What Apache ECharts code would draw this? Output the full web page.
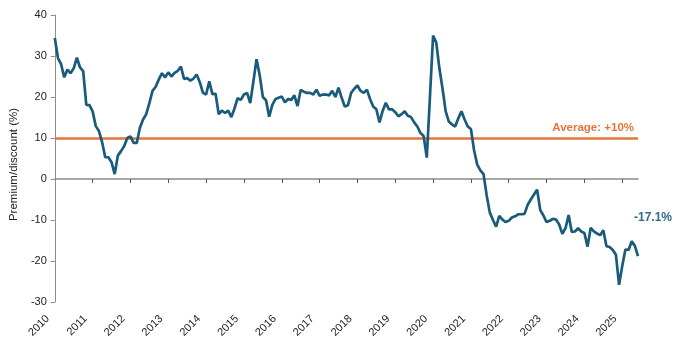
<!DOCTYPE html>
<html>
<head>
<meta charset="utf-8">
<script src="https://cdn.jsdelivr.net/npm/echarts@6/dist/echarts.min.js"></script>
<style>
html,body{margin:0;padding:0;background:#fff;}
#chart{width:680px;height:358px;}
</style>
</head>
<body>
<div id="chart"></div>
<script>
// Monthly premium/discount (%) from Jan 2010 to Jun 2025
const startYear = 2010;
const premium = [
  34.4, 29.5, 28.0, 24.8, 26.7, 25.8, 27.0, 29.6, 27.2, 26.3, 18.1, 18.0,
  16.5, 12.9, 11.7, 9.0, 5.3, 5.3, 4.1, 1.2, 5.7, 6.8, 8.0, 10.0,
  10.4, 8.8, 8.8, 12.5, 14.5, 15.8, 18.5, 21.5, 22.5, 24.3, 25.8, 24.8,
  26.0, 25.0, 25.9, 26.4, 27.4, 24.4, 24.6, 24.0, 24.5, 25.5, 23.6, 21.0,
  20.6, 23.8, 20.7, 20.8, 15.8, 16.7, 16.1, 16.7, 15.1, 17.2, 19.7, 19.3,
  20.6, 21.0, 18.5, 23.8, 29.2, 25.3, 20.0, 19.2, 15.2, 18.1, 19.5, 19.8,
  20.1, 18.7, 19.5, 19.3, 20.4, 17.8, 21.7, 21.3, 21.0, 21.0, 20.6, 21.8,
  20.3, 20.6, 20.6, 20.4, 21.5, 20.0, 22.3, 19.8, 17.7, 18.0, 21.0, 22.0,
  22.8, 21.5, 21.0, 21.8, 19.5, 17.7, 17.0, 13.8, 16.6, 18.6, 17.0, 17.0,
  16.3, 15.3, 15.8, 16.5, 15.4, 15.1, 13.8, 12.8, 11.2, 10.5, 5.2, 20.0,
  35.0, 33.3, 27.0, 22.0, 16.5, 14.0, 13.3, 12.8, 14.8, 16.5, 14.5, 12.8,
  12.2, 7.0, 3.5, 2.1, 1.2, -4.0, -8.2, -10.0, -11.6, -9.0, -9.9, -10.5,
  -10.2, -9.4, -9.1, -8.6, -8.6, -8.5, -6.3, -5.0, -3.8, -2.6, -7.6, -8.9,
  -10.5, -10.2, -9.7, -9.9, -11.1, -13.4, -12.0, -8.8, -12.9, -12.8, -12.0, -12.8,
  -13.2, -16.5, -11.9, -12.8, -13.3, -13.7, -12.5, -16.4, -16.6, -17.3, -18.5, -25.8,
  -21.2, -17.2, -17.3, -15.2, -16.3, -18.8
];
const averageValue = 10;
const averageLabel = 'Average: +10%';
const latestLabel = '-17.1%';
const yAxisName = 'Premium/discount (%)';

const months = premium.map((_, i) => {
  const y = startYear + Math.floor(i / 12);
  const m = (i % 12) + 1;
  return y + '-' + (m < 10 ? '0' + m : m);
});

const chart = echarts.init(document.getElementById('chart'));
const labelFont = 'Liberation Sans, Arial, sans-serif';
chart.setOption({
  animation: false,
  backgroundColor: '#ffffff',
  grid: { left: 51, right: 42, top: 15, bottom: 56, containLabel: false },
  xAxis: [
    {
      type: 'category',
      data: months,
      boundaryGap: false,
      axisLine: { onZero: true, lineStyle: { color: '#8c8c8c', width: 1.5 } },
      axisTick: { show: true, length: 4, interval: (i) => i % 12 === 0 && i > 0, lineStyle: { color: '#555', width: 1 } },
      axisLabel: { show: false },
      splitLine: { show: false }
    },
    {
      type: 'category',
      data: months,
      boundaryGap: false,
      position: 'bottom',
      axisLine: { show: false, onZero: false },
      axisTick: { show: false },
      axisLabel: {
        show: true,
        interval: (i) => i % 12 === 0,
        formatter: (v) => v.slice(0, 4),
        rotate: 45,
        margin: 8,
        padding: [0, 10, 0, 0],
        color: '#222',
        fontSize: 11,
        fontFamily: labelFont
      },
      splitLine: { show: false }
    }
  ],
  yAxis: {
    type: 'value',
    min: -30,
    max: 40,
    interval: 10,
    name: yAxisName,
    nameLocation: 'middle',
    nameGap: 34,
    nameTextStyle: { color: '#222', fontSize: 11.5, fontFamily: labelFont, padding: [0, 12, 0, 0] },
    axisLine: { show: true, lineStyle: { color: '#8c8c8c', width: 1 } },
    axisTick: { show: true, length: 4, lineStyle: { color: '#8c8c8c' } },
    axisLabel: { color: '#222', fontSize: 11, margin: 8, fontFamily: labelFont },
    splitLine: { show: false }
  },
  series: [
    {
      type: 'line',
      xAxisIndex: 0,
      data: premium,
      showSymbol: false,
      symbol: 'none',
      lineStyle: { color: '#1a5b7c', width: 2.7 },
      z: 3,
      markLine: {
        silent: true,
        symbol: 'none',
        data: [{ yAxis: averageValue }],
        lineStyle: { color: '#e2773a', width: 2.5, type: 'solid' },
        label: {
          show: true,
          position: 'insideEndTop',
          formatter: averageLabel,
          color: '#e2773a',
          fontSize: 11.5,
          fontWeight: 'bold',
          fontFamily: labelFont,
          distance: 4
        },
        z: 2
      }
    }
  ],
  graphic: [
    {
      type: 'text',
      left: 634,
      top: 212,
      style: {
        text: latestLabel,
        fill: '#2d6a8c',
        font: 'bold 12px Liberation Sans, Arial, sans-serif'
      }
    }
  ]
});
</script>
</body>
</html>
